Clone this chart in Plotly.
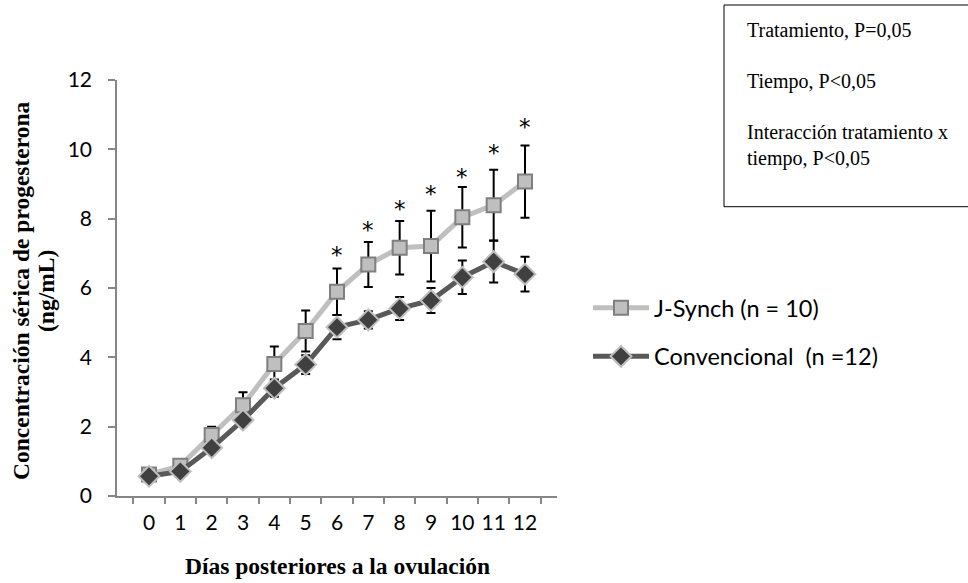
import plotly.graph_objects as go

days = ["0", "1", "2", "3", "4", "5", "6", "7", "8", "9", "10", "11", "12"]
jsynch = [0.62, 0.87, 1.76, 2.62, 3.81, 4.76, 5.89, 6.68, 7.16, 7.21, 8.04, 8.39, 9.07]
jsynch_err = [0.10, 0.10, 0.24, 0.37, 0.50, 0.59, 0.67, 0.65, 0.77, 1.02, 0.87, 1.02, 1.04]
conv = [0.57, 0.71, 1.39, 2.19, 3.11, 3.79, 4.87, 5.08, 5.41, 5.64, 6.31, 6.76, 6.40]
conv_err = [0.05, 0.05, 0.15, 0.10, 0.25, 0.27, 0.35, 0.25, 0.33, 0.36, 0.48, 0.60, 0.50]
star_days = ["6", "7", "8", "9", "10", "11", "12"]
star_y = [6.95, 7.67, 8.28, 8.71, 9.21, 9.88, 10.63]
y_ticks = [0, 2, 4, 6, 8, 10, 12]
stats_lines = ["Tratamiento, P=0,05", "Tiempo, P<0,05", "Interacción tratamiento x<br>tiempo, P<0,05"]

W, H = 968, 583
L, R, T, B = 117, 411, 80, 87
pw, ph = W - L - R, H - T - B

def px(x):
    return (x - L) / pw

def py(y):
    return (H - B - y) / ph

fig = go.Figure()
fig.add_trace(go.Scatter(
    x=days, y=jsynch, name="J-Synch (n = 10)", mode="lines+markers",
    legendgroup="a",
    line=dict(color="#BFBFBF", width=5),
    marker=dict(symbol="square", size=14, color="#BFBFBF", line=dict(color="#7F7F7F", width=2)),
    error_y=dict(type="data", array=jsynch_err, color="black", thickness=2, width=4.5),
))
fig.add_trace(go.Scatter(
    x=days, y=conv, name="Convencional  (n =12)", mode="lines+markers",
    legendgroup="b",
    line=dict(color="#595959", width=5),
    marker=dict(symbol="diamond", size=16, color="#404040", line=dict(color="#BFBFBF", width=2)),
    error_y=dict(type="data", array=conv_err, color="black", thickness=2, width=4.5),
))

for d, yv in zip(star_days, star_y):
    fig.add_annotation(x=d, y=yv, text="*", showarrow=False, xref="x", yref="y",
                       font=dict(family="DejaVu Sans", size=23, color="black"),
                       xanchor="center", yanchor="middle")

fig.add_shape(type="rect", xref="paper", yref="paper",
              x0=px(724), x1=px(975), y0=py(206.7), y1=py(5),
              line=dict(color="black", width=1), fillcolor="white")
stat_y = [30, 81, 145]
for txt, yy in zip(stats_lines, stat_y):
    fig.add_annotation(x=px(745), y=py(yy), xref="paper", yref="paper", text=txt,
                       showarrow=False, xanchor="left", yanchor="middle", align="left",
                       font=dict(family="Liberation Serif", size=20, color="black"))

fig.add_annotation(x=px(21), y=py(291), xref="paper", yref="paper",
                   text="<b>Concentración sérica de progesterona</b>", textangle=-90,
                   xanchor="center", yanchor="middle",
                   showarrow=False, font=dict(family="Liberation Serif", size=23.5, color="black"))
fig.add_annotation(x=px(46), y=py(291), xref="paper", yref="paper",
                   text="<b>(ng/mL)</b>", textangle=-90,
                   xanchor="center", yanchor="middle",
                   showarrow=False, font=dict(family="Liberation Serif", size=23.5, color="black"))
fig.add_annotation(x=px(337), y=py(566), xref="paper", yref="paper",
                   text="<b>Días posteriores a la ovulación</b>",
                   xanchor="center", yanchor="middle",
                   showarrow=False, font=dict(family="Liberation Serif", size=23.5, color="black"))

fig.update_layout(
    width=W, height=H,
    margin=dict(l=L, r=R, t=T, b=B),
    paper_bgcolor="white", plot_bgcolor="white",
    showlegend=True,
    legend=dict(x=px(588), y=py(286), xanchor="left", yanchor="top",
                font=dict(family="Lato", size=23.5, color="black"),
                itemwidth=56, tracegroupgap=15, bgcolor="rgba(0,0,0,0)"),
    xaxis=dict(type="category", tickson="boundaries", ticks="outside", ticklen=6,
               tickcolor="#868686", tickwidth=1.5, showline=True, linecolor="#868686",
               linewidth=1.5, showgrid=False, zeroline=False, ticklabelstandoff=7,
               tickangle=0,
               tickfont=dict(family="Lato", size=21, color="black")),
    yaxis=dict(range=[0, 12], tickvals=y_ticks, ticks="outside", ticklen=7,
               tickcolor="#868686", tickwidth=1.5, showline=True, linecolor="#868686",
               linewidth=1.5, showgrid=False, zeroline=False, ticklabelstandoff=12,
               tickfont=dict(family="Lato", size=21, color="black")),
)

fig.write_html("out.html", config={"displayModeBar": False},
               post_script="document.body.style.margin='0';")
